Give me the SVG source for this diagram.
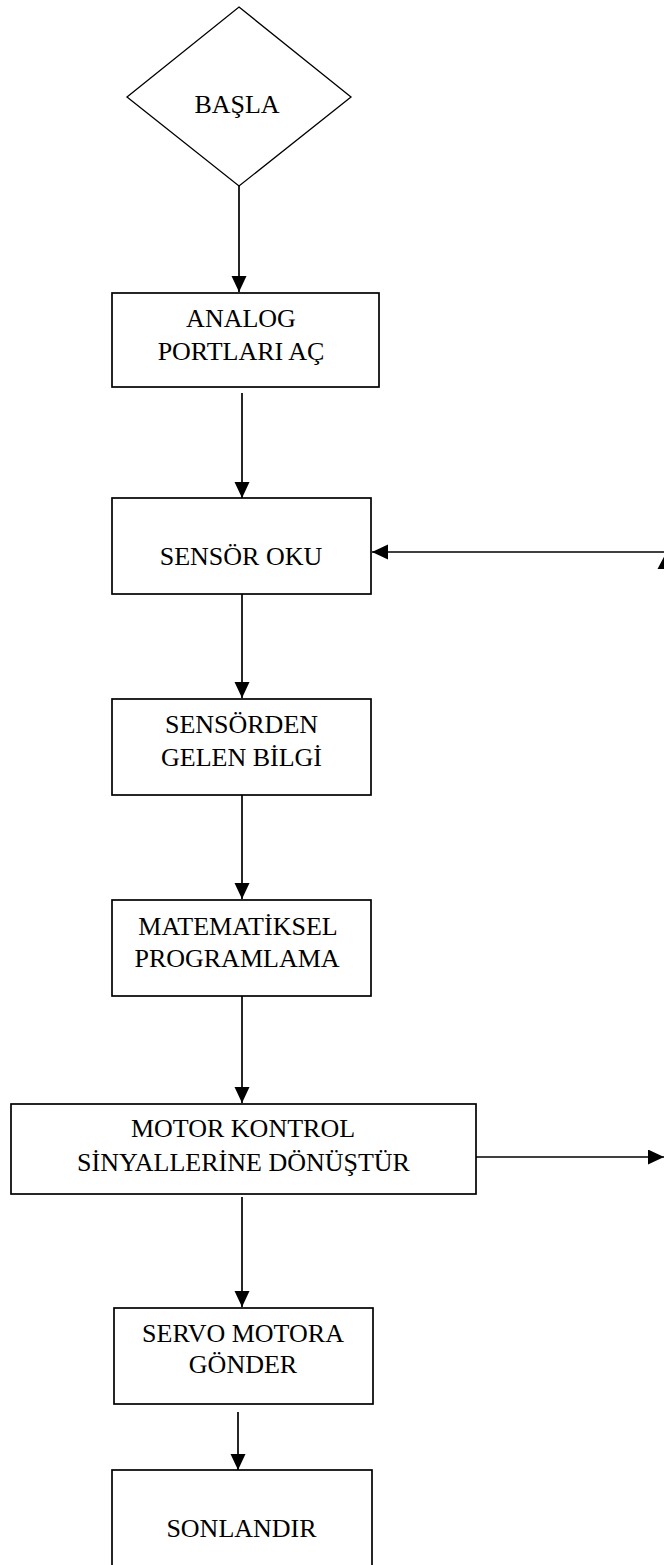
<svg xmlns="http://www.w3.org/2000/svg" width="664" height="1565" viewBox="0 0 664 1565">
  <style>
    .box { fill: #ffffff; stroke: #000000; stroke-width: 1.7; }
    .dia { fill: #ffffff; stroke: #000000; stroke-width: 1.3; }
    .lbl { font-family: "Liberation Serif", "Times New Roman", serif; font-size: 26px; fill: #000000; text-anchor: middle; }
    .wire { fill: none; stroke: #000000; stroke-width: 1.7; }
    .head { fill: #000000; }
  </style>
  <defs>
    <marker id="arrow" markerUnits="userSpaceOnUse" markerWidth="16" markerHeight="16" refX="16" refY="7.5" orient="auto">
      <path d="M0,0 L16,7.5 L0,15 Z" class="head"/>
    </marker>
  </defs>

  <rect width="664" height="1565" fill="#ffffff"/>

  <g id="connectors">
    <line class="wire" x1="239" y1="186" x2="239" y2="292" marker-end="url(#arrow)"/>
    <line class="wire" x1="242" y1="393" x2="242" y2="498" marker-end="url(#arrow)"/>
    <line class="wire" x1="242" y1="594" x2="242" y2="698" marker-end="url(#arrow)"/>
    <line class="wire" x1="242" y1="795" x2="242" y2="899" marker-end="url(#arrow)"/>
    <line class="wire" x1="242" y1="996" x2="242" y2="1103" marker-end="url(#arrow)"/>
    <line class="wire" x1="242" y1="1197" x2="242" y2="1307" marker-end="url(#arrow)"/>
    <line class="wire" x1="238" y1="1412" x2="238" y2="1470" marker-end="url(#arrow)"/>
    <line class="wire" x1="664" y1="552" x2="372" y2="552" marker-end="url(#arrow)"/>
    <line class="wire" x1="476" y1="1157" x2="664" y2="1157" marker-end="url(#arrow)"/>
    <!-- upward head of the return line at the right edge -->
    <polygon class="head" points="665,555 657.5,569 672.5,569"/>
  </g>

  <g id="start">
    <polygon class="dia" points="239,7 351,97 239,186 127,97"/>
    <text class="lbl" x="237" y="113">BAŞLA</text>
  </g>

  <g id="open-ports">
    <rect class="box" x="112" y="293" width="267" height="94"/>
    <text class="lbl" x="241" y="327">ANALOG</text>
    <text class="lbl" x="241" y="360">PORTLARI AÇ</text>
  </g>

  <g id="read-sensor">
    <rect class="box" x="112" y="498" width="259" height="96"/>
    <text class="lbl" x="241" y="565">SENSÖR OKU</text>
  </g>

  <g id="sensor-data">
    <rect class="box" x="112" y="699" width="259" height="96"/>
    <text class="lbl" x="241.5" y="733">SENSÖRDEN</text>
    <text class="lbl" x="241.5" y="766">GELEN BİLGİ</text>
  </g>

  <g id="math">
    <rect class="box" x="112" y="900" width="259" height="96"/>
    <text class="lbl" x="238" y="935">MATEMATİKSEL</text>
    <text class="lbl" x="237" y="967">PROGRAMLAMA</text>
  </g>

  <g id="motor-signals">
    <rect class="box" x="11" y="1104" width="465" height="90"/>
    <text class="lbl" x="243" y="1137">MOTOR KONTROL</text>
    <text class="lbl" x="243.5" y="1171">SİNYALLERİNE DÖNÜŞTÜR</text>
  </g>

  <g id="send-servo">
    <rect class="box" x="114" y="1308" width="259" height="96"/>
    <text class="lbl" x="243" y="1342">SERVO MOTORA</text>
    <text class="lbl" x="243" y="1373">GÖNDER</text>
  </g>

  <g id="finish">
    <rect class="box" x="112" y="1470" width="260" height="110"/>
    <text class="lbl" x="241.5" y="1537">SONLANDIR</text>
  </g>
</svg>
